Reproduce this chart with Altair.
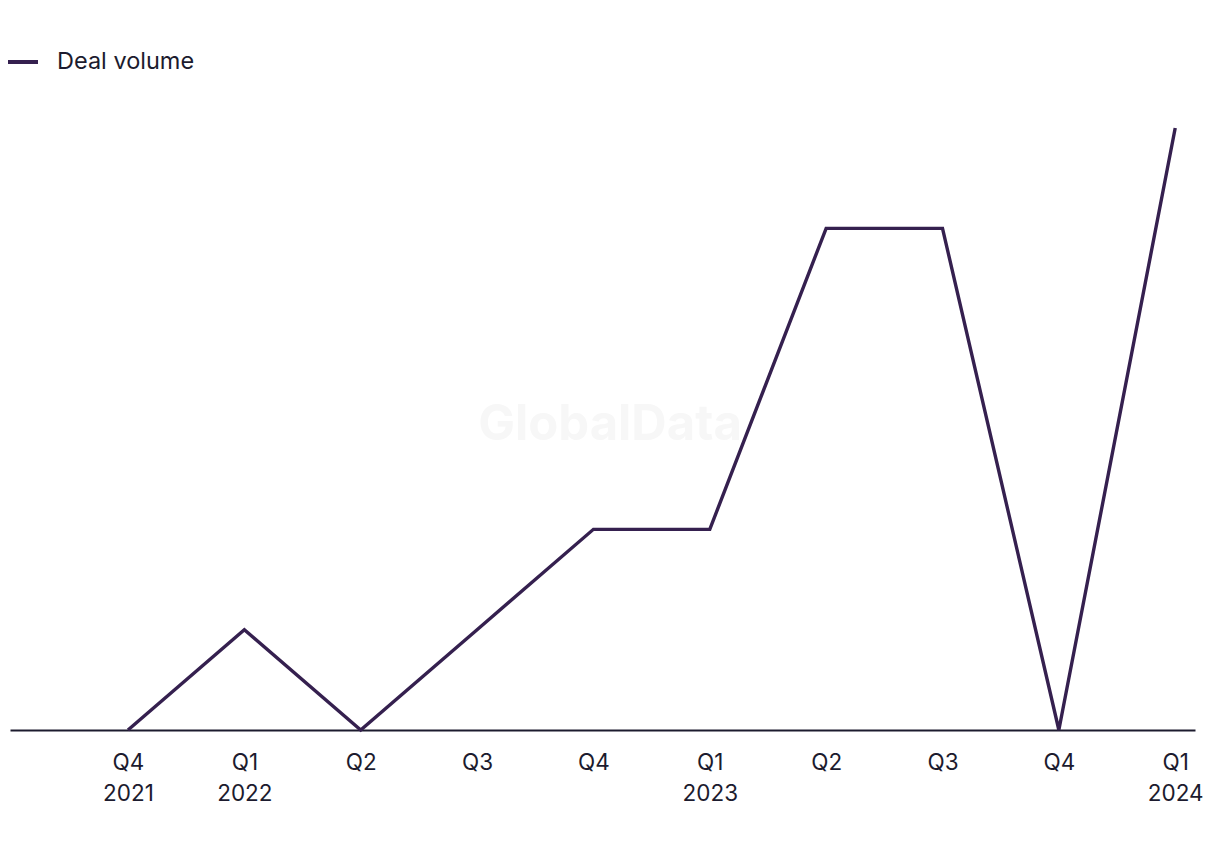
import json
import altair as alt
import pandas as pd

quarters = ["Q4 2021", "Q1 2022", "Q2 2022", "Q3 2022", "Q4 2022",
            "Q1 2023", "Q2 2023", "Q3 2023", "Q4 2023", "Q1 2024"]
tick_labels = ["Q4|2021", "Q1|2022", "Q2", "Q3", "Q4",
               "Q1|2023", "Q2", "Q3", "Q4", "Q1|2024"]
deal_volume = [0, 1, 0, 1, 2, 2, 5, 5, 0, 6]

df = pd.DataFrame({
    "idx": list(range(len(quarters))),
    "quarter": quarters,
    "value": deal_volume,
    "series": ["Deal volume"] * len(quarters),
})

FONT = "Inter"
TEXT = "#1c1b2e"
LINE = "#35204f"

label_expr = "split(" + json.dumps(tick_labels) + "[datum.value], '|')"

x = alt.X("idx:Q",
          scale=alt.Scale(domain=[-1.014, 9.17], nice=False, zero=False),
          axis=alt.Axis(values=list(range(len(quarters))), labelExpr=label_expr,
                        title=None, grid=False, ticks=False, domain=True,
                        domainColor=TEXT, domainWidth=2, labelFont=FONT,
                        labelFontSize=22.5, labelColor=TEXT, labelPadding=32,
                        labelLineHeight=31, labelBaseline="middle"))

y = alt.Y("value:Q", scale=alt.Scale(domain=[0, 6], nice=False),
          axis=None)

line = alt.Chart(df).mark_line(strokeWidth=3.4).encode(
    x=x, y=y,
    color=alt.Color("series:N",
                    scale=alt.Scale(domain=["Deal volume"], range=[LINE]),
                    legend=alt.Legend(title=None, orient="none",
                                      legendX=-4, legendY=-83,
                                      symbolType="stroke", symbolStrokeWidth=4,
                                      symbolSize=900, labelFont=FONT,
                                      labelFontSize=23.5, labelColor=TEXT,
                                      labelOffset=17)),
)

wm = alt.Chart(pd.DataFrame({"t": ["GlobalData"]})).mark_text(
    font=FONT, fontSize=49, fontWeight="bold", color="#f7f7f7"
).encode(text="t:N", x=alt.value(600), y=alt.value(297))

chart = alt.layer(wm, line).properties(
    width=1185, height=602,
    autosize=alt.AutoSizeParams(type="none"),
    padding={"left": 10, "top": 128, "right": 25, "bottom": 120},
).configure(background="white", view=alt.ViewConfig(stroke=None))

chart.save("out.html", embed_options={"renderer": "svg", "actions": False})
